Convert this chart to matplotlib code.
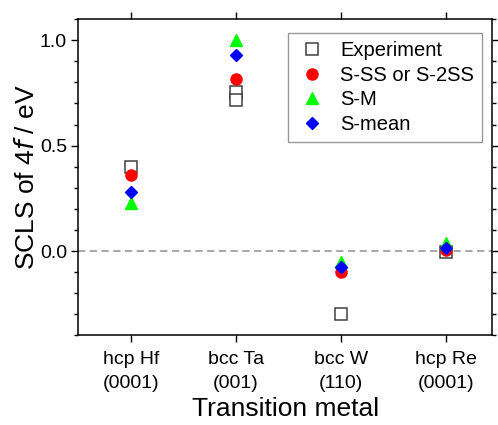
import matplotlib.pyplot as plt
from matplotlib.ticker import MultipleLocator

plt.rcParams['font.family'] = ['Liberation Sans', 'DejaVu Sans']

metals = ["hcp Hf\n(0001)", "bcc Ta\n(001)", "bcc W\n(110)", "hcp Re\n(0001)"]
xpos = [1, 2, 3, 4]

# Ta has two experimental values
exp_x = [1, 2, 2, 3, 4]
exp_y = [0.40, 0.755, 0.715, -0.30, -0.005]
s_ss = [0.36, 0.815, -0.10, 0.005]
s_m = [0.23, 1.00, -0.05, 0.04]
s_mean = [0.28, 0.93, -0.075, 0.013]

fig = plt.figure(figsize=(4.98, 4.25), dpi=100)
ax = fig.add_axes([0.157, 0.211, 0.831, 0.744])

ax.axhline(0, color="#a0a0a0", ls=(0, (4, 2.5)), lw=1.3, zorder=1)

ax.plot(exp_x, exp_y, ls="none", marker="s", ms=8, mfc="white", mec="#404040",
        mew=1.1, label="Experiment", zorder=2)
ax.plot(xpos, s_ss, ls="none", marker="o", ms=8, color="#ff0000",
        label="S-SS or S-2SS", zorder=3)
ax.plot(xpos, s_m, ls="none", marker="^", ms=8.5, color="#00ff00",
        label="S-M", zorder=4)
ax.plot(xpos, s_mean, ls="none", marker="D", ms=6.5, color="#0000ff",
        label="S-mean", zorder=5)

ax.set_xlim(0.5, 4.44)
ax.set_ylim(-0.4, 1.1)
ax.set_xticks(xpos)
ax.set_xticklabels(metals, fontsize=14, linespacing=1.6)
ax.yaxis.set_major_locator(MultipleLocator(0.5))
ax.yaxis.set_minor_locator(MultipleLocator(0.1))
ax.tick_params(axis="y", labelsize=14, pad=3)
ax.tick_params(axis="x", pad=6)
ax.tick_params(which="both", direction="out", top=True, right=True)
ax.tick_params(which="major", length=5, width=1)
ax.tick_params(which="minor", length=3, width=1)
for spine in ax.spines.values():
    spine.set_linewidth(1.1)

ax.set_ylabel("SCLS of 4$\\it{f}$ / eV", fontsize=19, labelpad=1)
ax.set_xlabel("Transition metal", fontsize=19, labelpad=3)

leg = ax.legend(loc="upper right", bbox_to_anchor=(0.976, 0.956), fontsize=14.5,
                frameon=True, fancybox=False, edgecolor="#808080",
                handlelength=1.6, handletextpad=0.6, labelspacing=0.28,
                borderpad=0.4, borderaxespad=0)
leg.get_frame().set_linewidth(1.0)

fig.savefig("out.png", dpi=100)
